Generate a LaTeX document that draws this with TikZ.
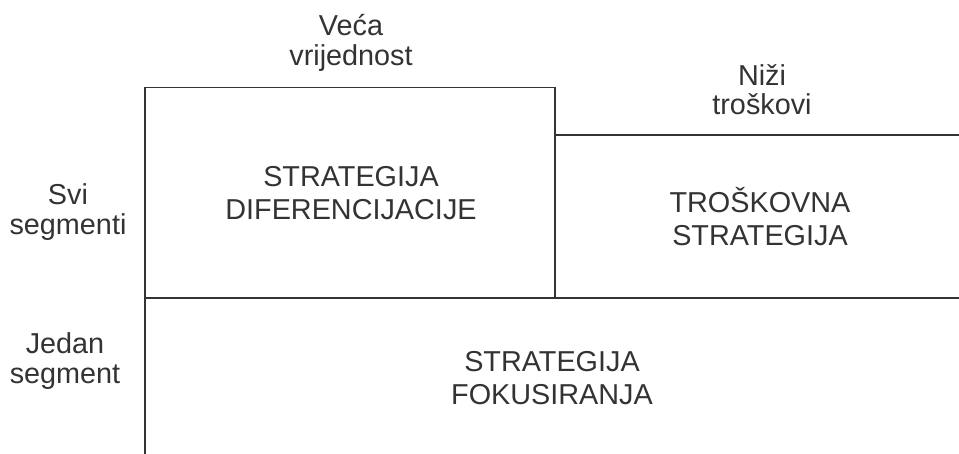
\documentclass[tikz,border=0pt]{standalone}
\usepackage{fontspec}
\setmainfont{Liberation Sans}
\definecolor{ink}{HTML}{333333}
\begin{document}
\begin{tikzpicture}[x=1pt,y=-1pt,
  frame/.style={draw=ink,line width=1.4pt},
  lbl/.style={text=ink,align=center,inner sep=0pt,font=\fontsize{28.8}{29.5}\selectfont},
  boxtxt/.style={text=ink,align=center,inner sep=0pt,font=\fontsize{28.8}{33}\selectfont}]
\useasboundingbox (0,0) rectangle (959,454);
% frames
\coordinate (tl) at (145,87.5);
\coordinate (tm) at (555,87.5);
\coordinate (rm) at (555,135);
\coordinate (rr) at (959,135);
\coordinate (ml) at (145,298);
\coordinate (mm) at (555,298);
\coordinate (mr) at (959,298);
\coordinate (bl) at (145,454);
\draw[frame] (ml) -- (tl) -- (tm) -- (mm);
\draw[frame] (rm) -- (rr);
\draw[frame] (bl) -- (ml) -- (mr);
% texts
\node[lbl] (veca) at (351,43) {Veća\\vrijednost};
\node[lbl] (nizi) at (762,89.5) {Niži\\troškovi};
\node[lbl] (svi) at (68,212) {Svi\\segmenti};
\node[lbl] (jedan) at (65,361) {Jedan\\segment};
\node[boxtxt] (diff) at (351,193.5) {STRATEGIJA\\DIFERENCIJACIJE};
\node[boxtxt] (cost) at (760,217) {TROŠKOVNA\\STRATEGIJA};
\node[boxtxt] (focus) at (552,378.5) {STRATEGIJA\\FOKUSIRANJA};
\end{tikzpicture}
\end{document}
